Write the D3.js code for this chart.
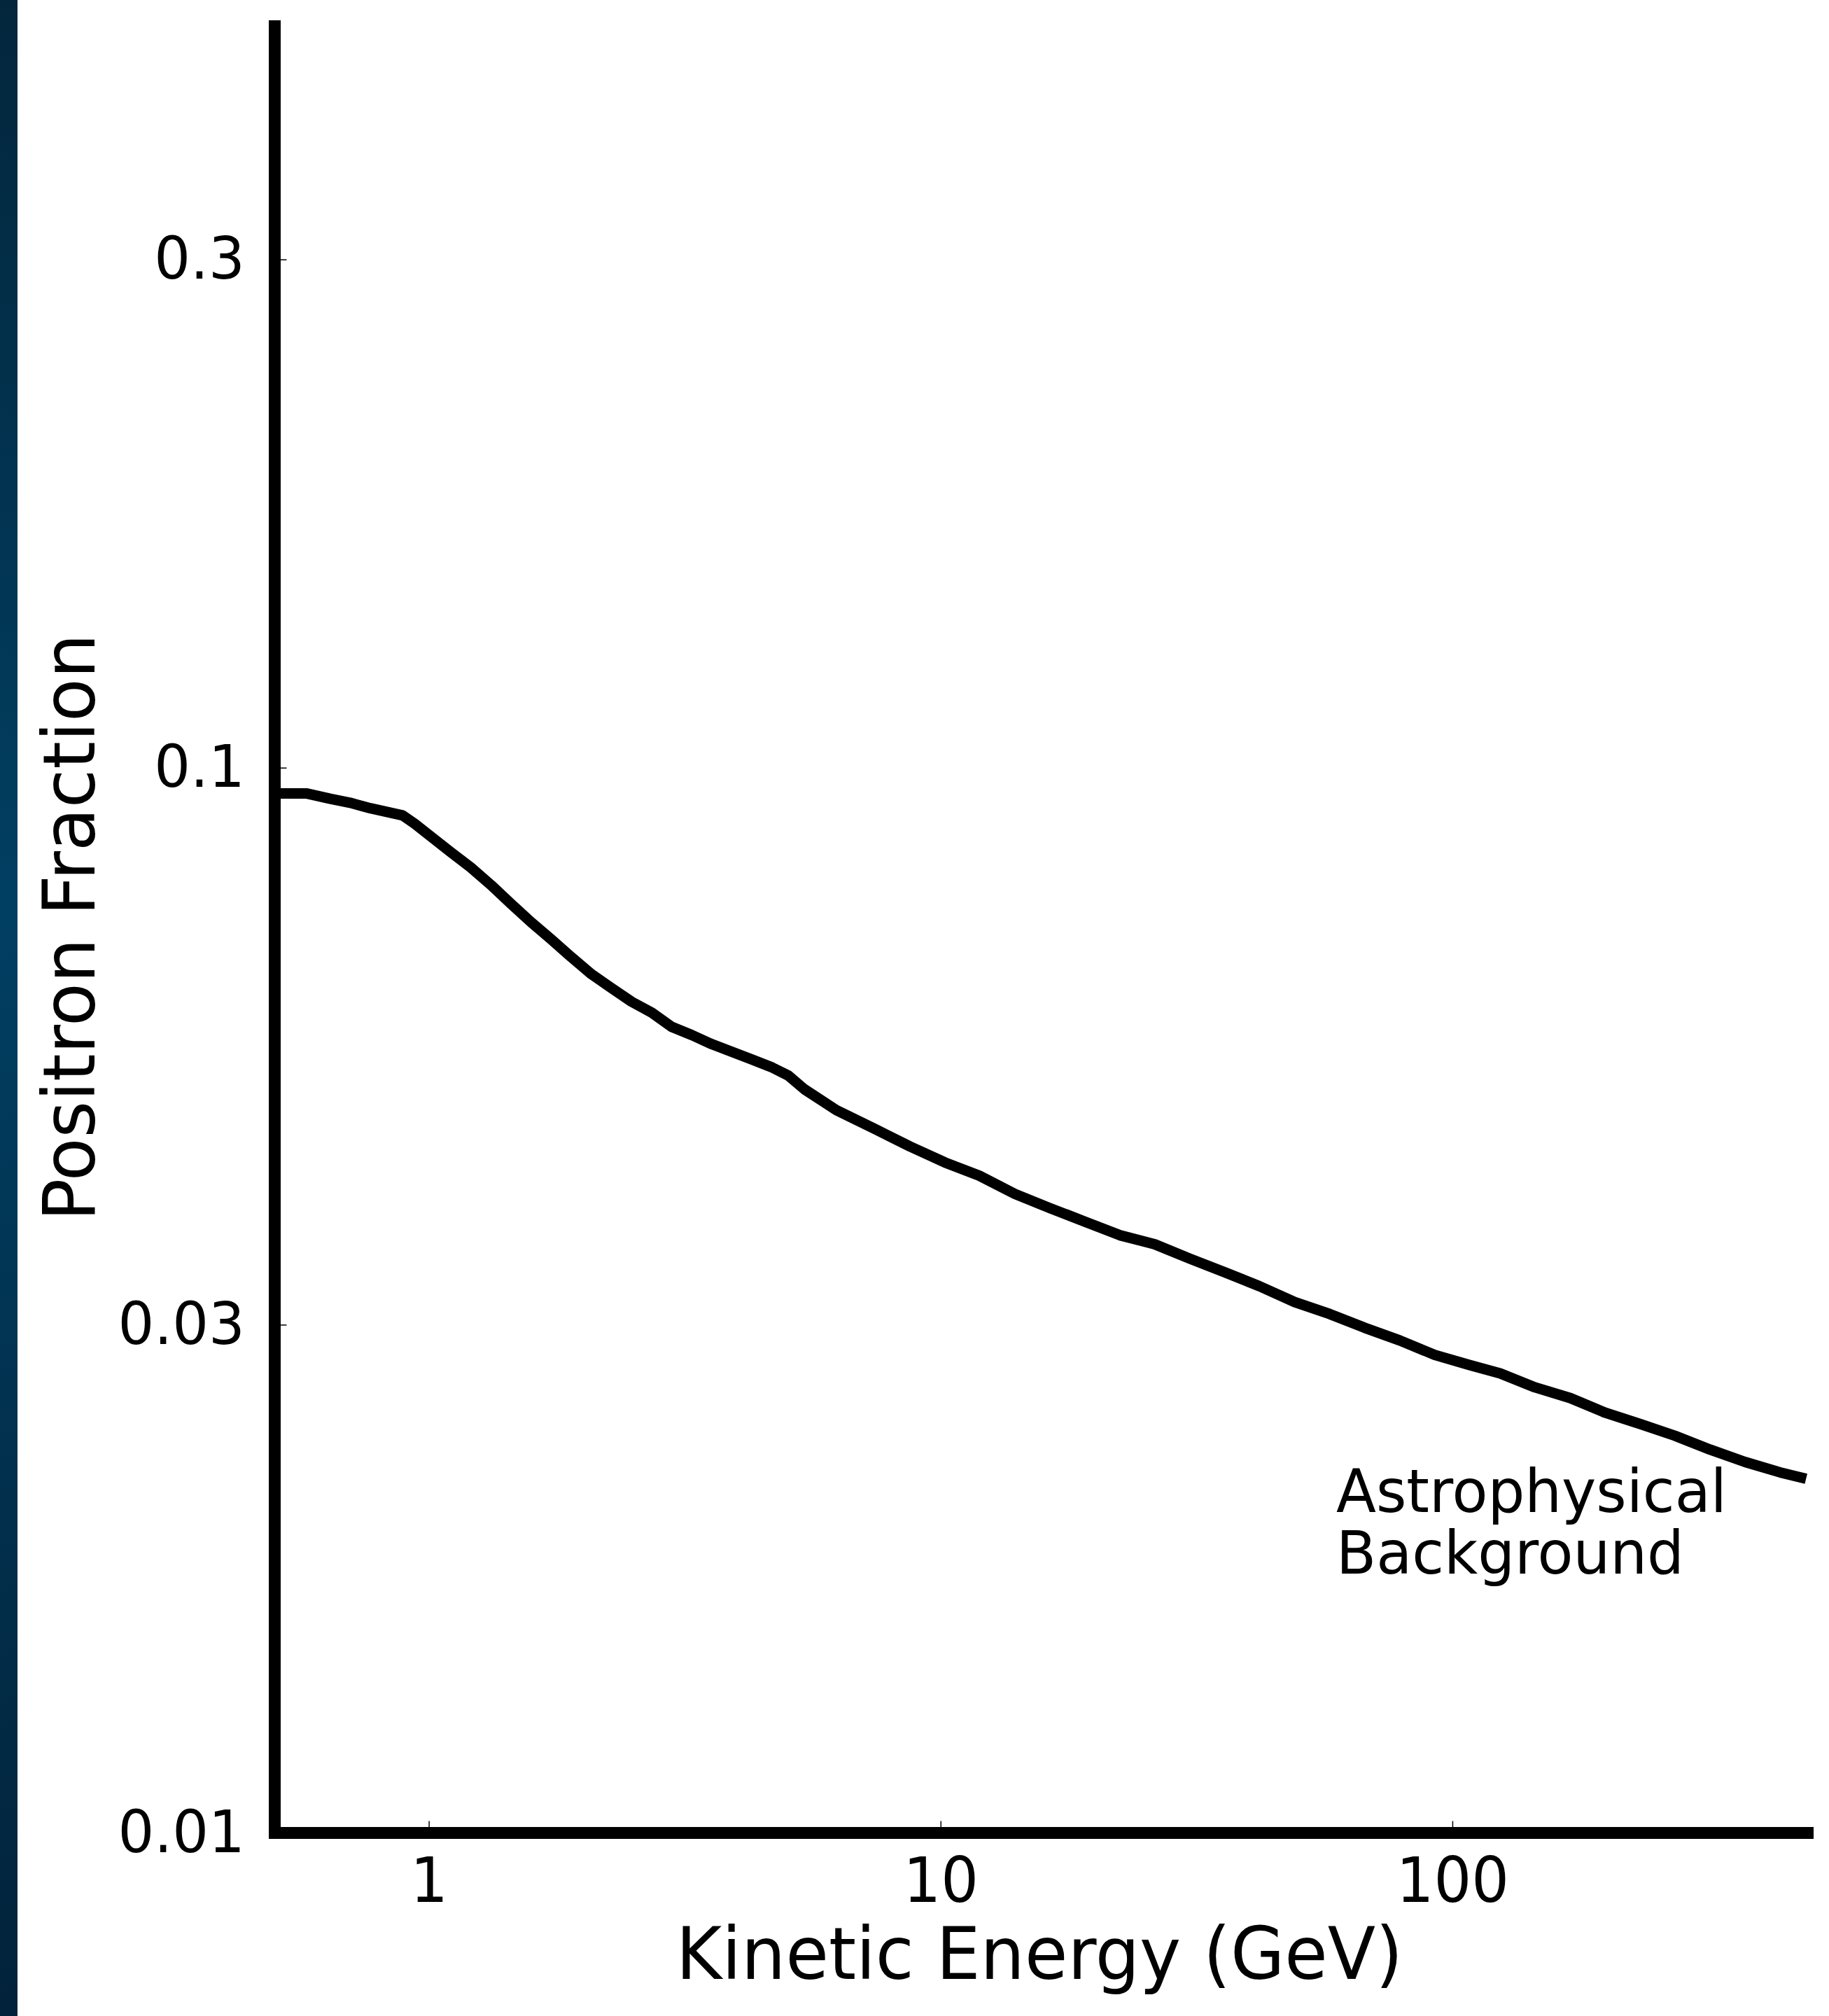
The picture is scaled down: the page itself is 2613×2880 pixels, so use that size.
<!DOCTYPE html>
<html>
<head>
<meta charset="utf-8">
<script src="https://cdn.jsdelivr.net/npm/d3@7"></script>
<style>
  html, body { margin: 0; padding: 0; background: #ffffff; }
  svg { display: block; }
  text { font-family: "DejaVu Sans", "Liberation Sans", sans-serif; fill: #000; }
</style>
</head>
<body>
<script>
// ---- Data ----
const energyGeV = [0.5, 0.576, 0.642, 0.702, 0.769, 0.889, 0.938, 1.009, 1.104, 1.208, 1.323, 1.448,
  1.585, 1.735, 1.899, 2.079, 2.276, 2.49, 2.727, 2.985, 3.268, 3.577, 3.915, 4.286, 4.691, 5.04,
  5.42, 6.26, 7.44, 8.71, 10.2, 11.9, 13.97, 16.35, 19.1, 22.4, 26.2, 30.7, 35.9, 42.0, 49.2, 57.6,
  67.4, 78.9, 92.4, 108, 124, 145, 170, 199, 233, 272, 319, 373, 437, 491];
const positronFraction = [0.0946, 0.0946, 0.0935, 0.0927, 0.0916, 0.0902, 0.0886, 0.0862, 0.0833, 0.0806,
  0.0776, 0.0745, 0.0716, 0.0690, 0.0664, 0.0640, 0.0621, 0.0603, 0.0589, 0.0571, 0.0561, 0.0550,
  0.0541, 0.0532, 0.0523, 0.0514, 0.0499, 0.0477, 0.0458, 0.0441, 0.0426, 0.0414, 0.0398, 0.0386,
  0.0375, 0.0364, 0.0357, 0.0346, 0.0336, 0.0326, 0.0315, 0.0307, 0.0298, 0.0290, 0.0281, 0.0275,
  0.0270, 0.0262, 0.0256, 0.0248, 0.0242, 0.0236, 0.0229, 0.0223, 0.0218, 0.0215];
const xTickValues = [1, 10, 100];
const xTickLabels = ["1", "10", "100"];
const yTickValues = [0.01, 0.03, 0.1, 0.3];
const yTickLabels = ["0.01", "0.03", "0.1", "0.3"];
const xDomain = [0.5, 500];
const yDomain = [0.01, 0.5];
const xAxisTitle = "Kinetic Energy (GeV)";
const yAxisTitle = "Positron Fraction";
const annotationLines = ["Astrophysical", "Background"];

// ---- Layout ----
const W = 2613, H = 2880;
const plotLeft = 392.5, plotRight = 2586, plotBottom = 2618.5, plotTop = 33;

const svg = d3.select("body").append("svg")
  .attr("width", W).attr("height", H)
  .attr("viewBox", `0 0 ${W} ${H}`);

// background
svg.append("rect").attr("width", W).attr("height", H).attr("fill", "#ffffff");
const defs = svg.append("defs");
const grad = defs.append("linearGradient").attr("id", "strip").attr("x1", 0).attr("y1", 0).attr("x2", 0).attr("y2", 1);
grad.append("stop").attr("offset", "0%").attr("stop-color", "#03263c");
grad.append("stop").attr("offset", "45%").attr("stop-color", "#013f62");
grad.append("stop").attr("offset", "100%").attr("stop-color", "#02223a");
svg.append("rect").attr("x", 0).attr("y", 0).attr("width", 25).attr("height", H).attr("fill", "url(#strip)");

const x = d3.scaleLog().domain(xDomain).range([plotLeft, plotRight]);
const y = d3.scaleLog().domain(yDomain).range([plotBottom, plotTop]);

// axes (ticks + labels)
const yAxis = d3.axisLeft(y)
  .tickValues(yTickValues)
  .tickFormat((d, i) => yTickLabels[i])
  .tickSizeInner(-17).tickSizeOuter(0).tickPadding(44);
const gy = svg.append("g").attr("transform", `translate(${plotLeft},0)`).call(yAxis);
gy.select(".domain").remove();
gy.selectAll(".tick line").attr("stroke", "#000").attr("stroke-width", 1.5);
gy.selectAll(".tick text").attr("font-size", 84).attr("font-family", "DejaVu Sans").attr("fill", "#000")
  .attr("transform", "scale(0.97,1)");

const xAxis = d3.axisBottom(x)
  .tickValues(xTickValues)
  .tickFormat((d, i) => xTickLabels[i])
  .tickSizeInner(-17).tickSizeOuter(0).tickPadding(35);
const gx = svg.append("g").attr("transform", `translate(0,${plotBottom})`).call(xAxis);
gx.select(".domain").remove();
gx.selectAll(".tick line").attr("stroke", "#000").attr("stroke-width", 1.5);
gx.selectAll(".tick text").attr("font-size", 89).attr("font-family", "DejaVu Sans").attr("fill", "#000")
  .attr("transform", "scale(0.95,1)");

// data line
const data = energyGeV.map((e, i) => ({ e, f: positronFraction[i] }));
const line = d3.line().x(d => x(d.e)).y(d => y(d.f)).curve(d3.curveLinear);
svg.append("path")
  .datum(data)
  .attr("d", line)
  .attr("fill", "none")
  .attr("stroke", "#000")
  .attr("stroke-width", 15)
  .attr("stroke-linejoin", "round")
  .attr("stroke-linecap", "butt");

// spines
svg.append("line").attr("x1", plotLeft).attr("x2", plotLeft).attr("y1", 29).attr("y2", plotBottom + 8.5)
  .attr("stroke", "#000").attr("stroke-width", 17);
svg.append("line").attr("x1", plotLeft - 8.5).attr("x2", 2591).attr("y1", plotBottom).attr("y2", plotBottom)
  .attr("stroke", "#000").attr("stroke-width", 17);

// axis titles
svg.append("text")
  .attr("transform", `translate(1485,2827) scale(0.97,1)`)
  .attr("text-anchor", "middle")
  .attr("font-size", 103)
  .text(xAxisTitle);

svg.append("text")
  .attr("transform", `translate(135,1325) rotate(-90) scale(0.98,1)`)
  .attr("text-anchor", "middle")
  .attr("font-size", 103)
  .text(yAxisTitle);

// annotation
const ann = svg.append("text").attr("font-size", 85)
  .attr("transform", "translate(1909,2160) scale(0.98,1)");
annotationLines.forEach((t, i) => {
  ann.append("tspan").attr("x", 0).attr("y", i * 88).text(t);
});
</script>
</body>
</html>
